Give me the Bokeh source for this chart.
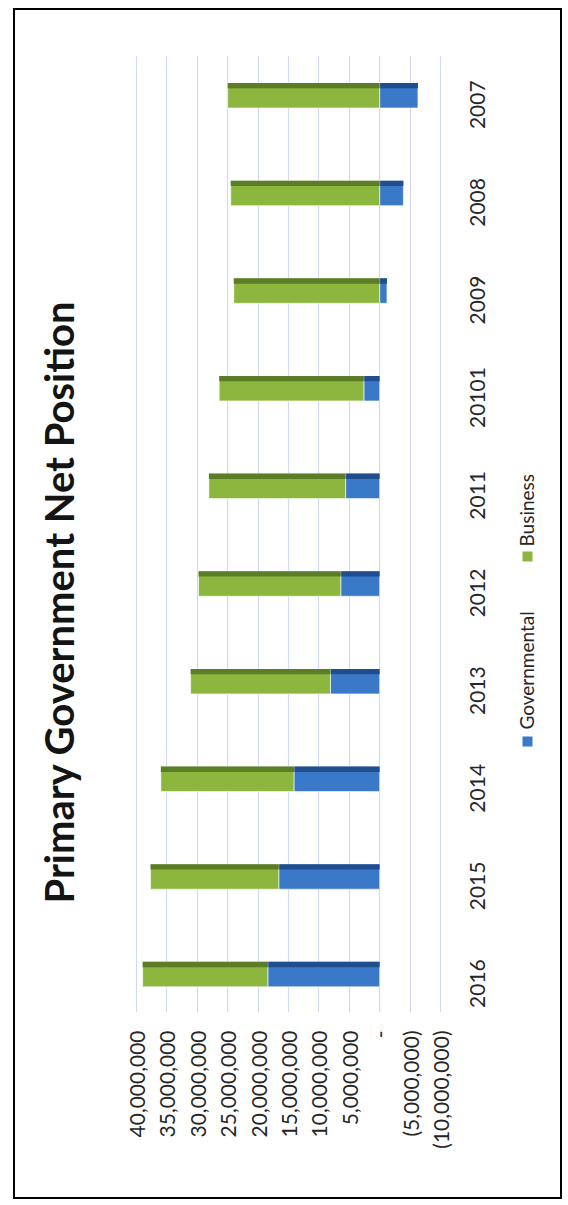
import math
from bokeh.plotting import figure
from bokeh.models import Range1d, FixedTicker, LinearAxis, ColumnDataSource
from bokeh.embed import file_html
from bokeh.resources import INLINE

# ---- data ----
years = ["2007", "2008", "2009", "20101", "2011", "2012", "2013", "2014", "2015", "2016"]
governmental = [-6.3e6, -3.9e6, -1.2e6, 2.6e6, 5.6e6, 6.4e6, 8.1e6, 14.1e6, 16.6e6, 18.4e6]
business = [25.0e6, 24.5e6, 24.0e6, 23.8e6, 22.5e6, 23.4e6, 23.0e6, 21.9e6, 21.1e6, 20.6e6]
value_ticks = [-10e6, -5e6, 0, 5e6, 10e6, 15e6, 20e6, 25e6, 30e6, 35e6, 40e6]
title_text = "Primary Government Net Position"
series_names = ["Governmental", "Business"]

FONT = "Lato"
GREEN = "#8cb63e"
GREEN_DARK = "#5a7d26"
BLUE = "#3a78c8"
BLUE_DARK = "#1f4d8e"
TXT = "#262626"

W, H = 568, 1205
FL, FR, FT, FB = 130, 446, 55, 1012   # frame edges in page pixels
Y0, DY = 95.0, 97.65                  # page y of first category centre, px per category
SQ_L, SQ_R = 522, 532                 # legend swatch x extent (page px)


def fmt(v):
    v = int(v)
    if v == 0:
        return "-"
    if v < 0:
        return "({:,})".format(-v)
    return "{:,}".format(v)


def ydata(page_y):  # page y position -> category-axis data value
    return round((page_y - Y0) / DY, 4)


# stacked segments: positives stack up from zero, negatives stack down from zero
idx = list(range(len(years)))
pos_base = [0.0] * len(years)
neg_base = [0.0] * len(years)
segments = []
for vals in (governmental, business):
    left, right = [], []
    for i, v in enumerate(vals):
        if v >= 0:
            left.append(pos_base[i]); right.append(pos_base[i] + v); pos_base[i] += v
        else:
            right.append(neg_base[i]); left.append(neg_base[i] + v); neg_base[i] += v
    segments.append((left, right))

p = figure(width=W, height=H,
           x_range=Range1d(41e6, -11e6),
           y_range=Range1d(ydata(FB), ydata(FT)),
           y_axis_location="right", x_axis_location="below",
           output_backend="svg", toolbar_location=None,
           min_border_left=FL, min_border_right=W - FR,
           min_border_top=FT, min_border_bottom=H - FB)
p.outline_line_color = None
p.background_fill_color = "white"
p.border_fill_color = "white"

BAR_H = 0.256
STRIP_H = 0.055
colors = [(BLUE, BLUE_DARK), (GREEN, GREEN_DARK)]
for (left, right), (c, cd) in zip(segments, colors):
    src = ColumnDataSource(dict(y=idx, left=left, right=right,
                                ytop=[i - BAR_H / 2 + STRIP_H / 2 for i in idx]))
    p.hbar(y="y", left="left", right="right", height=BAR_H, source=src,
           fill_color=c, line_color="white", line_width=0.6)
    p.hbar(y="ytop", left="left", right="right", height=STRIP_H, source=src,
           fill_color=cd, line_color=None)


def plain(ax, size, standoff):
    ax.axis_line_color = None
    ax.major_tick_line_color = None
    ax.major_tick_out = 0
    ax.major_tick_in = 0
    ax.minor_tick_line_color = None
    ax.minor_tick_out = 0
    ax.minor_tick_in = 0
    ax.major_label_standoff = standoff
    ax.major_label_text_font = FONT
    ax.major_label_text_font_size = size
    ax.major_label_text_color = TXT
    ax.major_label_orientation = math.pi / 2


# value axis (horizontal, reversed)
xa = p.xaxis[0]
xa.ticker = FixedTicker(ticks=value_ticks)
xa.major_label_overrides = {int(t): fmt(t) for t in value_ticks}
plain(xa, "21px", 18)

# category axis (right side); labels read upward and start at their tick,
# so each tick sits half a label length below the bar centre
ya = p.yaxis[0]
year_ticks = [round(i + (len(y) * 11.8 / 2 + 10) / DY, 4) for i, y in zip(idx, years)]
green_sq = ydata(556)
ya.ticker = FixedTicker(ticks=year_ticks, minor_ticks=[green_sq])
ya.major_label_overrides = {t: y for t, y in zip(year_ticks, years)}
# legend swatch (Business) drawn as a thick minor tick; the tick extent
# is compensated by a negative label standoff
plain(ya, "21px", 31 - (SQ_R - FR))
ya.minor_tick_line_color = GREEN
ya.minor_tick_line_width = 10
ya.minor_tick_in = -(SQ_L - FR)
ya.minor_tick_out = SQ_R - FR

# legend texts: second axis on the right
leg_ticks = [ydata(729), ydata(546)]
la = LinearAxis(ticker=FixedTicker(ticks=leg_ticks),
                major_label_overrides={t: s for t, s in zip(leg_ticks, series_names)})
plain(la, "19px", 31)
p.add_layout(la, "right")

# title: axis on the left carrying one label
title_tick = ydata(300)
blue_sq = ydata(741)
ta = LinearAxis(ticker=FixedTicker(ticks=[title_tick], minor_ticks=[blue_sq]),
                major_label_overrides={title_tick: title_text})
plain(ta, "40px", 71)
ta.major_label_text_font_style = "bold"
ta.major_label_text_color = "#141414"
# legend swatch (Governmental) drawn as a thick minor tick
ta.minor_tick_line_color = BLUE
ta.minor_tick_line_width = 10
ta.minor_tick_in = SQ_L - FL
ta.minor_tick_out = -(SQ_R - FL)
p.add_layout(ta, "left")

p.xgrid.grid_line_color = "#d3d9ee"
p.xgrid.grid_line_width = 1.2
p.xgrid.ticker = FixedTicker(ticks=value_ticks)
p.ygrid.visible = False

html = file_html(p, INLINE)
frame_div = ('<div style="position:fixed;left:13px;top:8px;width:549px;height:1191px;'
             'border:2.5px solid #000;box-sizing:border-box;pointer-events:none;'
             'z-index:2147483647"></div>')
if "</body>" in html:
    html = html.replace("</body>", frame_div + "</body>", 1)
else:
    html = html + frame_div
open("out.html", "w").write(html)
